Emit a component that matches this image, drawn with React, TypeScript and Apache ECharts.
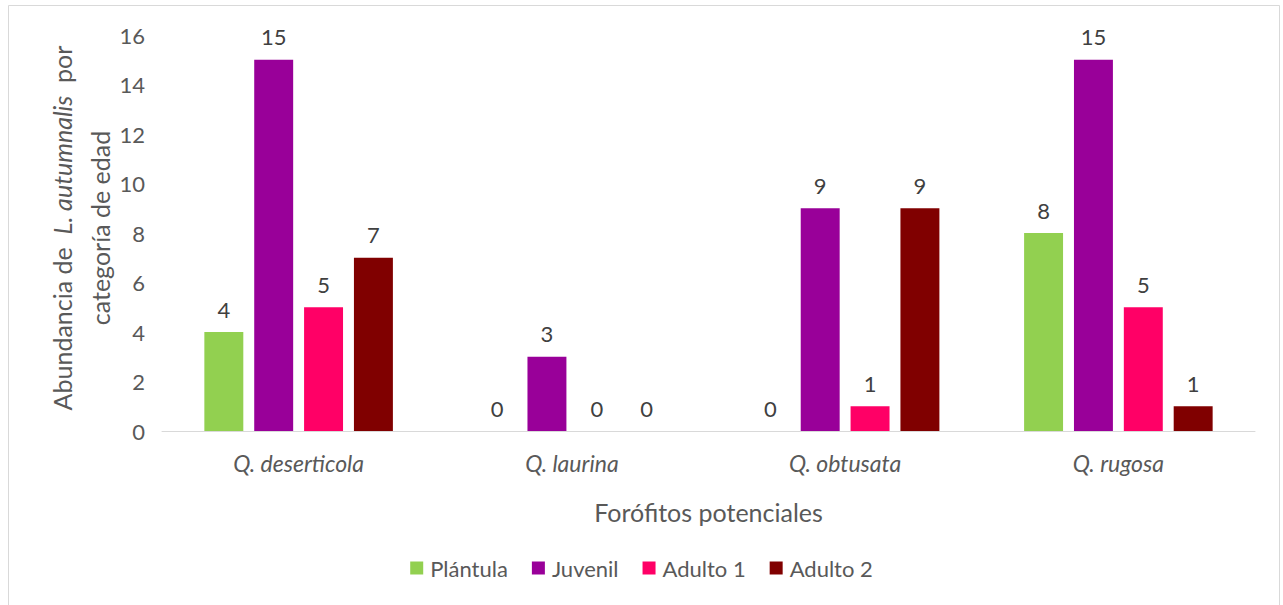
import React, { useEffect, useRef } from "react";
import * as echarts from "echarts";

const categories = ["Q. deserticola", "Q. laurina", "Q. obtusata", "Q. rugosa"];
const seriesNames = ["Plántula", "Juvenil", "Adulto 1", "Adulto 2"];
const plantula = [4, 0, 0, 8];
const juvenil = [15, 3, 9, 15];
const adulto1 = [5, 0, 1, 5];
const adulto2 = [7, 0, 9, 1];
const colors = ["#92D050", "#990099", "#FF0066", "#800000"];

const FONT = "Lato, 'Open Sans', sans-serif";

export default function App() {
  const ref = useRef<HTMLDivElement>(null);
  useEffect(() => {
    if (!ref.current) return;
    const chart = echarts.init(ref.current, undefined, { renderer: "svg" });
    const values = [plantula, juvenil, adulto1, adulto2];
    chart.setOption({
      animation: false,
      textStyle: { fontFamily: FONT },
      grid: { left: 162, right: 28, top: 35, bottom: 174 },
      legend: {
        bottom: 21,
        left: "center",
        itemWidth: 13,
        itemHeight: 13,
        itemGap: 24,
        icon: "rect",
        textStyle: { color: "#595959", fontSize: 22, fontFamily: FONT, padding: [0, 0, 0, 2] },
        data: seriesNames,
      },
      xAxis: {
        type: "category",
        data: categories,
        axisLine: { lineStyle: { color: "#D9D9D9", width: 1 } },
        axisTick: { show: false },
        axisLabel: { color: "#595959", fontSize: 23, fontStyle: "italic", margin: 20, fontFamily: FONT },
        name: "Forófitos potenciales",
        nameLocation: "middle",
        nameGap: 68,
        nameTextStyle: { color: "#595959", fontSize: 25, fontFamily: FONT },
      },
      yAxis: {
        type: "value",
        min: 0,
        max: 16,
        interval: 2,
        axisLine: { show: false },
        axisTick: { show: false },
        splitLine: { show: false },
        axisLabel: { color: "#595959", fontSize: 22, margin: 17, fontFamily: FONT },
      },
      graphic: [
        {
          type: "rect",
          shape: { x: 8.5, y: 5.5, width: 1271, height: 640 },
          style: { fill: "none", stroke: "#D9D9D9", lineWidth: 1 },
          silent: true,
        },
        {
          type: "text",
          x: 81,
          y: 228,
          rotation: Math.PI / 2,
          style: {
            text: "{n|Abundancia de  }{i|L. autumnalis}{n|  por}\n{n|categoría de edad}",
            align: "center",
            verticalAlign: "middle",
            fill: "#595959",
            lineHeight: 38,
            rich: {
              n: { fontSize: 25, fontFamily: FONT, fill: "#595959", lineHeight: 38 },
              i: { fontSize: 25, fontFamily: FONT, fontStyle: "italic", fill: "#595959", lineHeight: 38 },
            },
          },
        },
      ],
      series: seriesNames.map((name, i) => ({
        name,
        type: "bar",
        data: values[i],
        barGap: "28%",
        barCategoryGap: "31%",
        itemStyle: { color: colors[i] },
        label: {
          show: true,
          position: "top",
          distance: 12,
          color: "#404040",
          fontSize: 22,
          fontFamily: FONT,
        },
      })),
    });
    return () => chart.dispose();
  }, []);
  return (
    <div
      ref={ref}
      style={{ position: "fixed", left: 0, top: 0, width: 1283, height: 605, background: "#fff" }}
    />
  );
}
